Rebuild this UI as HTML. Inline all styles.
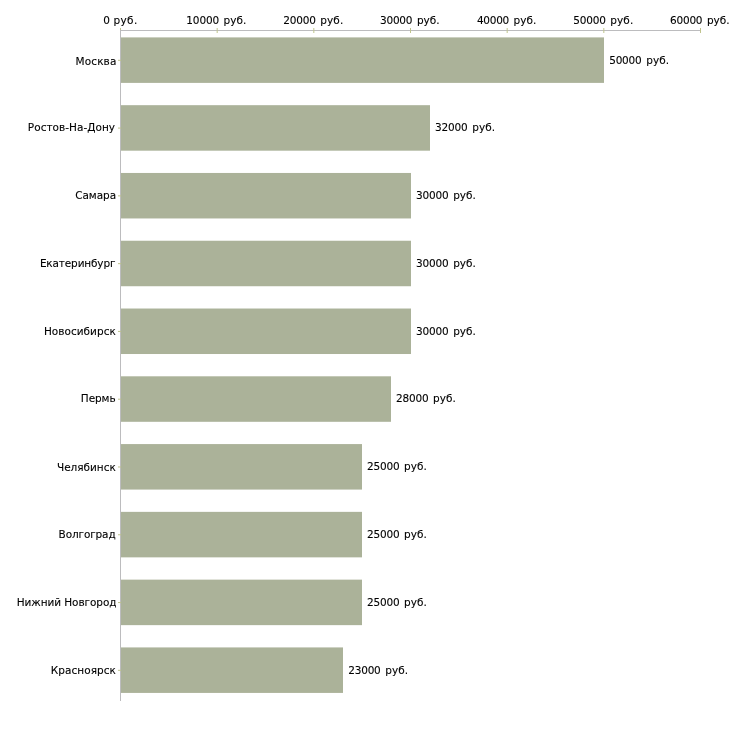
<!DOCTYPE html>
<html lang="ru"><head><meta charset="utf-8"><title>chart</title>
<style>
html,body{margin:0;padding:0;background:#fff;}
body{width:730px;height:730px;overflow:hidden;}
svg{display:block;}
text{font-family:"DejaVu Sans","Liberation Sans",sans-serif;font-size:10.5px;fill:#000;stroke:#000;stroke-width:0.1px;white-space:pre;}
</style></head><body>
<svg width="730" height="730" viewBox="0 0 730 730">
<rect x="0" y="0" width="730" height="730" fill="#ffffff"/>
<rect x="121" y="37.40" width="483.00" height="45.5" fill="#abb299"/>
<rect x="121" y="105.18" width="309.00" height="45.5" fill="#abb299"/>
<rect x="121" y="172.96" width="290.00" height="45.5" fill="#abb299"/>
<rect x="121" y="240.74" width="290.00" height="45.5" fill="#abb299"/>
<rect x="121" y="308.52" width="290.00" height="45.5" fill="#abb299"/>
<rect x="121" y="376.30" width="270.00" height="45.5" fill="#abb299"/>
<rect x="121" y="444.08" width="241.00" height="45.5" fill="#abb299"/>
<rect x="121" y="511.86" width="241.00" height="45.5" fill="#abb299"/>
<rect x="121" y="579.64" width="241.00" height="45.5" fill="#abb299"/>
<rect x="121" y="647.42" width="222.00" height="45.5" fill="#abb299"/>
<rect x="120" y="30" width="1" height="671" fill="#bcbcbe"/>
<rect x="120" y="30" width="581" height="1" fill="#bcbcbe"/>
<rect x="120.00" y="28" width="1" height="2" fill="#c0c48e"/>
<rect x="216.67" y="28" width="1" height="5" fill="#c0c48e"/>
<rect x="313.33" y="28" width="1" height="5" fill="#c0c48e"/>
<rect x="410.00" y="28" width="1" height="5" fill="#c0c48e"/>
<rect x="506.67" y="28" width="1" height="5" fill="#c0c48e"/>
<rect x="603.33" y="28" width="1" height="5" fill="#c0c48e"/>
<rect x="700.00" y="28" width="1" height="5" fill="#c0c48e"/>
<rect x="118" y="59.80" width="3" height="1" fill="#c0c48e"/>
<rect x="118" y="127.58" width="3" height="1" fill="#c0c48e"/>
<rect x="118" y="195.36" width="3" height="1" fill="#c0c48e"/>
<rect x="118" y="263.14" width="3" height="1" fill="#c0c48e"/>
<rect x="118" y="330.92" width="3" height="1" fill="#c0c48e"/>
<rect x="118" y="398.70" width="3" height="1" fill="#c0c48e"/>
<rect x="118" y="466.48" width="3" height="1" fill="#c0c48e"/>
<rect x="118" y="534.26" width="3" height="1" fill="#c0c48e"/>
<rect x="118" y="602.04" width="3" height="1" fill="#c0c48e"/>
<rect x="118" y="669.82" width="3" height="1" fill="#c0c48e"/>
<text id="c0" transform="translate(0,65) scale(1,1.048)" x="75.54" y="0" letter-spacing="0.126">Москва</text>
<text id="c1" transform="translate(0,131) scale(1,1.048)" x="27.85" y="0" letter-spacing="0.028">Ростов-На-Дону</text>
<text id="c2" transform="translate(0,199) scale(1,1.048)" x="75.13" y="0" letter-spacing="-0.032">Самара</text>
<text id="c3" transform="translate(0,267) scale(1,1.048)" x="39.89" y="0" letter-spacing="-0.146">Екатеринбург</text>
<text id="c4" transform="translate(0,335) scale(1,1.048)" x="43.89" y="0" letter-spacing="0.033">Новосибирск</text>
<text id="c5" transform="translate(0,402) scale(1,1.048)" x="80.85" y="0" letter-spacing="-0.083">Пермь</text>
<text id="c6" transform="translate(0,471) scale(1,1.048)" x="57.01" y="0" letter-spacing="-0.017">Челябинск</text>
<text id="c7" transform="translate(0,538) scale(1,1.048)" x="58.60" y="0" letter-spacing="-0.136">Волгоград</text>
<text id="c8" transform="translate(0,606) scale(1,1.048)" x="16.70" y="0" letter-spacing="-0.069">Нижний Новгород</text>
<text id="c9" transform="translate(0,674) scale(1,1.048)" x="50.80" y="0" letter-spacing="0.040">Красноярск</text>
<text transform="translate(0,64) scale(1,1.048)" y="0"><tspan id="vd0" x="609.14" letter-spacing="-0.181">50000</tspan> <tspan id="vr0" x="646.14" letter-spacing="0.092">руб.</tspan></text>
<text transform="translate(0,131) scale(1,1.048)" y="0"><tspan id="vd1" x="434.94" letter-spacing="-0.145">32000</tspan> <tspan id="vr1" x="472.14" letter-spacing="0.092">руб.</tspan></text>
<text transform="translate(0,199) scale(1,1.048)" y="0"><tspan id="vd2" x="416.02" letter-spacing="-0.160">30000</tspan> <tspan id="vr2" x="453.14" letter-spacing="0.034">руб.</tspan></text>
<text transform="translate(0,267) scale(1,1.048)" y="0"><tspan id="vd3" x="416.02" letter-spacing="-0.160">30000</tspan> <tspan id="vr3" x="453.14" letter-spacing="0.034">руб.</tspan></text>
<text transform="translate(0,335) scale(1,1.048)" y="0"><tspan id="vd4" x="416.02" letter-spacing="-0.160">30000</tspan> <tspan id="vr4" x="453.14" letter-spacing="0.034">руб.</tspan></text>
<text transform="translate(0,402) scale(1,1.048)" y="0"><tspan id="vd5" x="396.00" letter-spacing="-0.149">28000</tspan> <tspan id="vr5" x="433.13" letter-spacing="-0.023">руб.</tspan></text>
<text transform="translate(0,470) scale(1,1.048)" y="0"><tspan id="vd6" x="367.00" letter-spacing="-0.149">25000</tspan> <tspan id="vr6" x="404.13" letter-spacing="-0.023">руб.</tspan></text>
<text transform="translate(0,538) scale(1,1.048)" y="0"><tspan id="vd7" x="367.00" letter-spacing="-0.149">25000</tspan> <tspan id="vr7" x="404.13" letter-spacing="-0.023">руб.</tspan></text>
<text transform="translate(0,606) scale(1,1.048)" y="0"><tspan id="vd8" x="367.00" letter-spacing="-0.149">25000</tspan> <tspan id="vr8" x="404.13" letter-spacing="-0.023">руб.</tspan></text>
<text transform="translate(0,674) scale(1,1.048)" y="0"><tspan id="vd9" x="348.20" letter-spacing="-0.197">23000</tspan> <tspan id="vr9" x="385.14" letter-spacing="0.092">руб.</tspan></text>
<text transform="translate(0,24) scale(1,1.048)" y="0"><tspan id="xd0" x="103.37" letter-spacing="0.000">0</tspan> <tspan id="xr0" x="113.54" letter-spacing="0.331">руб.</tspan></text>
<text transform="translate(0,24) scale(1,1.048)" y="0"><tspan id="xd1" x="186.21" letter-spacing="-0.079">10000</tspan> <tspan id="xr1" x="223.56" letter-spacing="0.070">руб.</tspan></text>
<text transform="translate(0,24) scale(1,1.048)" y="0"><tspan id="xd2" x="283.27" letter-spacing="-0.204">20000</tspan> <tspan id="xr2" x="320.30" letter-spacing="0.101">руб.</tspan></text>
<text transform="translate(0,24) scale(1,1.048)" y="0"><tspan id="xd3" x="379.90" letter-spacing="-0.182">30000</tspan> <tspan id="xr3" x="416.90" letter-spacing="0.024">руб.</tspan></text>
<text transform="translate(0,24) scale(1,1.048)" y="0"><tspan id="xd4" x="476.91" letter-spacing="-0.248">40000</tspan> <tspan id="xr4" x="513.56" letter-spacing="0.070">руб.</tspan></text>
<text transform="translate(0,24) scale(1,1.048)" y="0"><tspan id="xd5" x="573.20" letter-spacing="-0.181">50000</tspan> <tspan id="xr5" x="610.30" letter-spacing="0.101">руб.</tspan></text>
<text transform="translate(0,24) scale(1,1.048)" y="0"><tspan id="xd6" x="669.99" letter-spacing="-0.206">60000</tspan> <tspan id="xr6" x="706.90" letter-spacing="0.024">руб.</tspan></text>
</svg>
</body></html>
